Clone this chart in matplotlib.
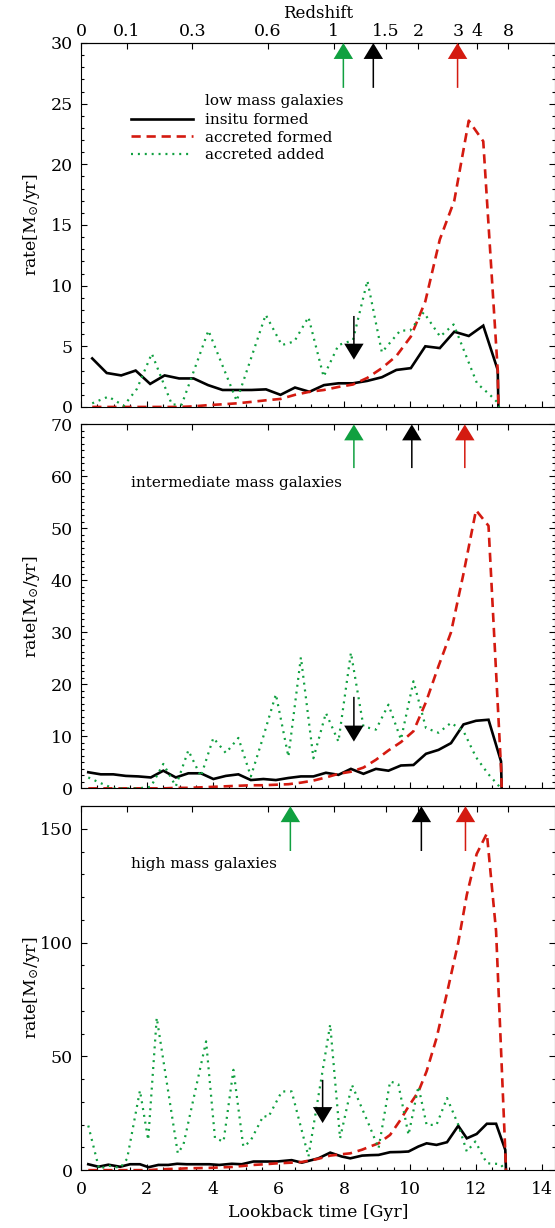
import matplotlib
matplotlib.use('Agg')
import matplotlib.pyplot as plt
from matplotlib.ticker import MultipleLocator

plt.rcParams['font.family'] = ['DejaVu Serif']
plt.rcParams['mathtext.fontset'] = 'dejavuserif'

RED = '#d41a10'
GREEN = '#10a040'

# redshift axis (ticks placed at the matching lookback time)
z_labels = ['0', '0.1', '0.3', '0.6', '1', '1.5', '2', '3', '4', '8']
z_times = [0.0, 1.40, 3.38, 5.68, 7.68, 9.26, 10.25, 11.45, 12.03, 12.97]

# low mass galaxies
t_low = [0.34, 0.78, 1.22, 1.66, 2.10, 2.54, 2.98, 3.42, 3.86, 4.30, 4.74, 5.18, 5.62, 6.06, 6.50,
         6.94, 7.38, 7.82, 8.26, 8.70, 9.14, 9.58, 10.02, 10.46, 10.90, 11.34, 11.78, 12.22, 12.66, 12.68]
insitu_low = [4.0, 2.8, 2.6, 3.0, 1.9, 2.6, 2.35, 2.35, 1.8, 1.4, 1.4, 1.4, 1.45, 1.0, 1.6,
              1.25, 1.8, 1.95, 1.95, 2.15, 2.45, 3.05, 3.2, 5.0, 4.85, 6.2, 5.85, 6.7, 3.05, 0]
accform_low = [0, 0, 0, 0, 0, 0, 0, 0.05, 0.15, 0.22, 0.3, 0.42, 0.55, 0.66, 1.0,
               1.25, 1.4, 1.65, 1.85, 2.4, 3.2, 4.2, 5.8, 8.7, 13.8, 17.0, 23.6, 21.9, 3.0, 0]
t_low_add = [0.34, 0.83, 1.30, 1.70, 2.15, 2.76, 3.06, 3.87, 4.73, 5.61, 6.10, 6.48, 6.91, 7.37,
             7.82, 8.26, 8.70, 9.14, 9.70, 10.00, 10.41, 10.91, 11.32, 12.03, 12.43, 12.68, 12.70]
accadd_low = [0.3, 0.85, 0.1, 1.5, 4.4, 0.2, 0.2, 6.3, 0.5, 7.6, 5.1, 5.4, 7.4, 2.5,
              5.1, 5.5, 10.4, 4.5, 6.3, 6.3, 7.8, 5.8, 6.8, 1.95, 0.98, 0.3, 0]

# intermediate mass galaxies
t_mid = [0.22, 0.60, 0.98, 1.36, 1.74, 2.12, 2.50, 2.88, 3.26, 3.64, 4.02, 4.40, 4.78, 5.16, 5.54,
         5.92, 6.30, 6.68, 7.06, 7.44, 7.82, 8.20, 8.58, 8.96, 9.34, 9.72, 10.10, 10.48, 10.86,
         11.24, 11.62, 12.00, 12.38, 12.76, 12.78]
insitu_mid = [3.1, 2.7, 2.7, 2.4, 2.3, 2.1, 3.4, 2.1, 2.9, 2.9, 1.8, 2.4, 2.7, 1.6, 1.8,
              1.6, 2.0, 2.3, 2.3, 3.0, 2.6, 3.75, 2.8, 3.75, 3.4, 4.4, 4.5, 6.65, 7.4,
              8.7, 12.3, 13.0, 13.2, 5.2, 0]
accform_mid = [0, 0, 0, 0, 0, 0, 0, 0.1, 0.1, 0.2, 0.3, 0.4, 0.5, 0.6, 0.6,
               0.7, 0.8, 1.1, 1.5, 2.1, 2.8, 3.2, 4.0, 5.5, 7.3, 8.9, 11.0, 16.6, 23.5,
               30.0, 41.3, 53.5, 50.5, 4.0, 0]
accadd_mid = [2.1, 1.0, 0, 0, 0, 0.3, 4.7, 0.4, 7.3, 2.3, 9.7, 6.8, 9.7, 2.3, 10.0,
              18.1, 6.1, 25.2, 5.8, 14.5, 9.0, 26.1, 11.9, 11.3, 16.1, 9.4, 20.6, 11.6, 10.7,
              12.6, 11.0, 6.0, 2.7, 0, 0]

# high mass galaxies
t_high = [0.22, 0.53, 0.83, 1.19, 1.49, 1.79, 2.05, 2.35, 2.65, 2.92, 3.21, 3.55, 3.90, 4.20, 4.58,
          4.88, 5.24, 5.59, 5.95, 6.40, 6.71, 7.21, 7.57, 7.92, 8.18, 8.54, 8.80, 9.04, 9.39, 9.70,
          9.95, 10.25, 10.50, 10.80, 11.12, 11.46, 11.72, 12.02, 12.33, 12.61, 12.89, 12.91]
insitu_high = [2.6, 1.5, 2.4, 1.5, 2.6, 2.6, 1.3, 2.3, 2.3, 2.8, 2.6, 2.6, 2.6, 2.3, 2.8,
               2.6, 3.8, 3.8, 3.8, 4.4, 3.3, 5.2, 7.7, 6.0, 5.2, 6.4, 6.6, 6.7, 7.9, 8.0,
               8.2, 10.4, 11.8, 11.1, 12.3, 19.5, 14.0, 15.9, 20.4, 20.4, 8.9, 0]
accform_high = [0, 0, 0, 0, 0, 0, 0, 0.3, 0.5, 0.6, 0.8, 0.9, 1.0, 1.2, 1.4,
                1.8, 2.3, 2.6, 3.0, 3.3, 3.6, 5.0, 6.4, 7.0, 7.4, 9.0, 10.5, 11.8, 15.5, 22.0,
                28.0, 34.5, 43.5, 58.0, 78.0, 100.0, 121.0, 139.0, 148.0, 105.0, 8.0, 0]
t_high_add = [0.22, 0.55, 0.83, 1.19, 1.40, 1.79, 2.04, 2.30, 2.94, 3.11, 3.80, 4.07, 4.33, 4.63,
              4.93, 5.14, 5.54, 5.69, 6.10, 6.40, 6.91, 7.57, 7.87, 8.23, 8.73, 9.04, 9.39, 9.64,
              9.95, 10.25, 10.50, 10.80, 11.12, 11.46, 11.72, 11.98, 12.33, 12.74, 12.89]
accadd_high = [19.6, 0.5, 2.0, 1.0, 5.0, 35.0, 13.3, 67.0, 7.4, 11.1, 56.6, 14.0, 12.6, 44.1,
               10.4, 12.6, 23.9, 23.3, 34.6, 34.6, 6.0, 64.0, 14.0, 37.5, 20.6, 9.6, 39.0, 37.8,
               15.5, 36.8, 19.9, 19.9, 31.7, 20.0, 8.2, 12.6, 3.0, 2.7, 0]

# arrows: up arrows (green, black, red) and one down arrow per panel
up_low = [7.97, 8.88, 11.44]
up_mid = [8.29, 10.05, 11.66]
up_high = [6.36, 10.34, 11.68]
up_colors = [GREEN, 'black', RED]

panels = [
    dict(name='low mass galaxies', ymax=30, major=5, minor=1,
         insitu=(t_low, insitu_low), form=(t_low, accform_low), add=(t_low_add, accadd_low),
         up=up_low, up_from=26.3, down=(8.29, 7.5, 3.9)),
    dict(name='intermediate mass galaxies', ymax=70, major=10, minor=1.25,
         insitu=(t_mid, insitu_mid), form=(t_mid, accform_mid), add=(t_mid, accadd_mid),
         up=up_mid, up_from=61.6, down=(8.29, 17.6, 9.0)),
    dict(name='high mass galaxies', ymax=160, major=50, minor=10,
         insitu=(t_high, insitu_high), form=(t_high, accform_high), add=(t_high_add, accadd_high),
         up=up_high, up_from=140.3, down=(7.34, 39.7, 20.7)),
]

fig = plt.figure(figsize=(5.55, 12.28), dpi=100)
bottoms = [0.6686, 0.358, 0.0471]

for k, p in enumerate(panels):
    ax = fig.add_axes([0.146, bottoms[k], 0.854, 0.2964])
    l1, = ax.plot(*p['insitu'], color='black', lw=1.9, solid_joinstyle='miter')
    l2, = ax.plot(*p['form'], color=RED, lw=1.9, linestyle=(0, (3.5, 2.2)))
    l3, = ax.plot(*p['add'], color=GREEN, lw=1.6, linestyle=(0, (0.9, 2.2)))

    ax.set_xlim(0, 14.4)
    ax.set_ylim(0, p['ymax'])
    ax.xaxis.set_major_locator(MultipleLocator(2))
    ax.xaxis.set_minor_locator(MultipleLocator(0.5))
    ax.yaxis.set_major_locator(MultipleLocator(p['major']))
    ax.yaxis.set_minor_locator(MultipleLocator(p['minor']))
    ax.tick_params(which='both', direction='in', top=False, right=True, labelsize=12.5)
    ax.tick_params(which='major', length=4.5, width=0.8)
    ax.tick_params(which='minor', length=2, width=0.8)
    ax.tick_params(axis='y', pad=6)
    for s in ax.spines.values():
        s.set_linewidth(0.8)

    sec = ax.secondary_xaxis('top')
    sec.set_xticks(z_times, labels=z_labels)
    sec.tick_params(direction='in', length=4.5, width=0.8, labelsize=12.5, pad=2.5)
    sec.xaxis.set_minor_locator(plt.NullLocator())
    if k == 0:
        sec.set_xlabel('Redshift', fontsize=12, labelpad=3.5)
    else:
        sec.tick_params(labeltop=False)

    if k == 2:
        ax.set_xlabel('Lookback time [Gyr]', fontsize=12.5, labelpad=4)
        ax.tick_params(axis='x', pad=8)
    else:
        ax.tick_params(labelbottom=False)

    ax.set_ylabel(r'rate[M$_{\odot}$/yr]', fontsize=12.5)
    ax.yaxis.set_label_coords(-0.082, 0.5)

    # merger / formation time arrows
    for t, c in zip(p['up'], up_colors):
        ax.annotate('', xy=(t, p['ymax']), xytext=(t, p['up_from']),
                    arrowprops=dict(facecolor=c, edgecolor='none', width=1.1,
                                    headwidth=14, headlength=11.5))
    dt, dhi, dlo = p['down']
    ax.annotate('', xy=(dt, dlo), xytext=(dt, dhi),
                arrowprops=dict(facecolor='black', edgecolor='none', width=1.1,
                                headwidth=14, headlength=11.5))

    if k == 0:
        ax.text(0.262, 0.84, p['name'], transform=ax.transAxes, fontsize=11, va='center')
        ax.legend([l1, l2, l3], ['insitu formed', 'accreted formed', 'accreted added'],
                  loc='upper left', bbox_to_anchor=(0.105, 0.807), frameon=False,
                  fontsize=11, handlelength=4.1, handletextpad=0.75, labelspacing=0.22,
                  borderpad=0, borderaxespad=0)
    else:
        ax.text(0.105, 0.84, p['name'], transform=ax.transAxes, fontsize=11, va='center')

fig.savefig('out.png', dpi=100)
